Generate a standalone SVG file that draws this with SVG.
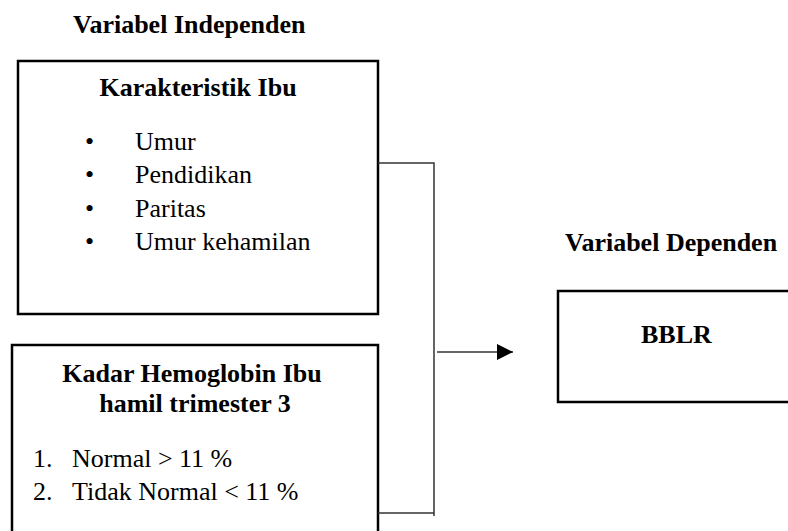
<svg xmlns="http://www.w3.org/2000/svg" width="788" height="531" viewBox="0 0 788 531">
<defs>
<style>
.box{fill:#fff;stroke:#000;stroke-width:2.5}
.conn{fill:none;stroke:#333;stroke-width:1.5}
.b{font-family:"Liberation Serif","Times New Roman",serif;font-weight:bold;font-size:26px;fill:#000}
.r{font-family:"Liberation Serif","Times New Roman",serif;font-size:26px;fill:#000}
</style>
<marker id="ah" viewBox="0 0 10 10" refX="10" refY="5" markerWidth="16" markerHeight="16" markerUnits="userSpaceOnUse" orient="auto">
<path d="M0,0 L10,5 L0,10 z" fill="#000"/>
</marker>
</defs>
<rect width="788" height="531" fill="#fff"/>
<text class="b" x="73" y="33">Variabel Independen</text>
<g id="karakteristik">
<rect class="box" x="18" y="61" width="360" height="253"/>
<text class="b" x="198" y="96" text-anchor="middle">Karakteristik Ibu</text>
<g class="r">
<text x="85" y="150">•</text><text x="135" y="150">Umur</text>
<text x="85" y="183">•</text><text x="135" y="183">Pendidikan</text>
<text x="85" y="217">•</text><text x="135" y="217">Paritas</text>
<text x="85" y="250">•</text><text x="135" y="250">Umur kehamilan</text>
</g>
</g>
<g id="hemoglobin">
<rect class="box" x="12" y="345" width="366" height="200"/>
<text class="b" x="192" y="382" text-anchor="middle">Kadar Hemoglobin Ibu</text>
<text class="b" x="195" y="412" text-anchor="middle">hamil trimester 3</text>
<g class="r">
<text x="33" y="467">1.</text><text x="72" y="467">Normal &gt; 11 %</text>
<text x="33" y="500">2.</text><text x="72" y="500">Tidak Normal &lt; 11 %</text>
</g>
</g>
<text class="b" x="565" y="251">Variabel Dependen</text>
<g id="bblr">
<rect class="box" x="558" y="291" width="250" height="111"/>
<text class="b" x="641" y="343">BBLR</text>
</g>
<g id="connectors">
<path class="conn" d="M378,163 H434 V516"/>
<path class="conn" d="M378,513 H434"/>
<path class="conn" d="M437,352 H513" marker-end="url(#ah)"/>
</g>
</svg>
